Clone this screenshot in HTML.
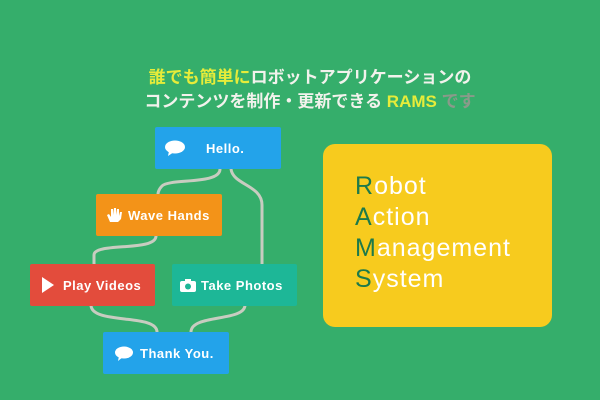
<!DOCTYPE html>
<html><head><meta charset="utf-8"><style>
body{margin:0;width:600px;height:400px;background:#35ae6b;position:relative;overflow:hidden;font-family:"Liberation Sans","Noto Sans CJK JP",sans-serif}
.h{position:absolute;left:0;width:600px;text-align:center;color:#f2f2ec;font-size:17px;font-weight:bold;white-space:nowrap}
.y{color:#e6ec3a}.g{color:#8a9a8a}
.b{position:absolute;height:42px;border-radius:2px;color:#fff;font-weight:bold;font-size:13px;display:flex;align-items:center;box-sizing:border-box;letter-spacing:0.5px}
.card{position:absolute;left:323px;top:144px;width:229px;height:183px;background:#f7cb1e;border-radius:12px}
.r{position:absolute;left:355px;font-size:25px;color:#fff;letter-spacing:1px}
.r b{color:#1d7a4a;font-weight:normal}
</style></head><body>
<div class="h" style="top:63px;left:10px"><span class="y">誰でも簡単に</span>ロボットアプリケーションの</div>
<div class="h" style="top:87px;left:10px">コンテンツを制作・更新できる <span class="y">RAMS</span> <span class="g">です</span></div>
<svg style="position:absolute;left:0;top:0" width="600" height="400">
<g fill="none" stroke="#c8ccc0" stroke-width="3">
<path d="M220 169 C220 185 170 178 162 186 C158 190 158 194 158 194"/>
<path d="M231 169 C233 185 262 185 262 205 L262 264"/>
<path d="M156 236 C156 252 94 242 94 255 L94 264"/>
<path d="M91 305 C91 325 157 313 157 332"/>
<path d="M245 305 C245 322 191 314 191 332"/>
</g></svg>
<div class="b" style="left:155px;top:127px;width:126px;background:#23a3ea;padding-left:10px"><svg width="20" height="16"><ellipse cx="10" cy="7" rx="10" ry="6.5" fill="#fff"/><polygon points="4,11 3,16 9,12" fill="#fff"/></svg><span style="margin-left:21px">Hello.</span></div>
<div class="b" style="left:96px;top:194px;width:126px;background:#f39318;padding-left:10px"><svg width="16" height="16"><path d="M4 15 L1 8 L3 7 L5 10 L5 2 L7 2 L7 8 L8 1 L10 1 L10 8 L11 2 L13 2 L13 9 L14 5 L16 5 L15 12 L12 15Z" fill="#fff"/></svg><span style="margin-left:6px">Wave Hands</span></div>
<div class="b" style="left:30px;top:264px;width:125px;background:#e34c3c;padding-left:12px"><svg width="12" height="16"><polygon points="0,0 12,8 0,16" fill="#fff"/></svg><span style="margin-left:9px">Play Videos</span></div>
<div class="b" style="left:172px;top:264px;width:125px;background:#1db797;padding-left:8px"><svg width="16" height="13"><rect x="0" y="2" width="16" height="11" rx="2" fill="#fff"/><rect x="5" y="0" width="6" height="3" fill="#fff"/><circle cx="8" cy="7.5" r="3" fill="#1db797"/></svg><span style="margin-left:5px">Take Photos</span></div>
<div class="b" style="left:103px;top:332px;width:126px;background:#23a3ea;padding-left:12px"><svg width="18" height="15"><ellipse cx="9" cy="6.5" rx="9" ry="6" fill="#fff"/><polygon points="4,10 3,15 8,11" fill="#fff"/></svg><span style="margin-left:7px">Thank You.</span></div>
<div class="card"></div>
<div class="r" style="top:172px"><b>R</b>obot</div>
<div class="r" style="top:203px"><b>A</b>ction</div>
<div class="r" style="top:234px"><b>M</b>anagement</div>
<div class="r" style="top:265px"><b>S</b>ystem</div>
</body></html>
